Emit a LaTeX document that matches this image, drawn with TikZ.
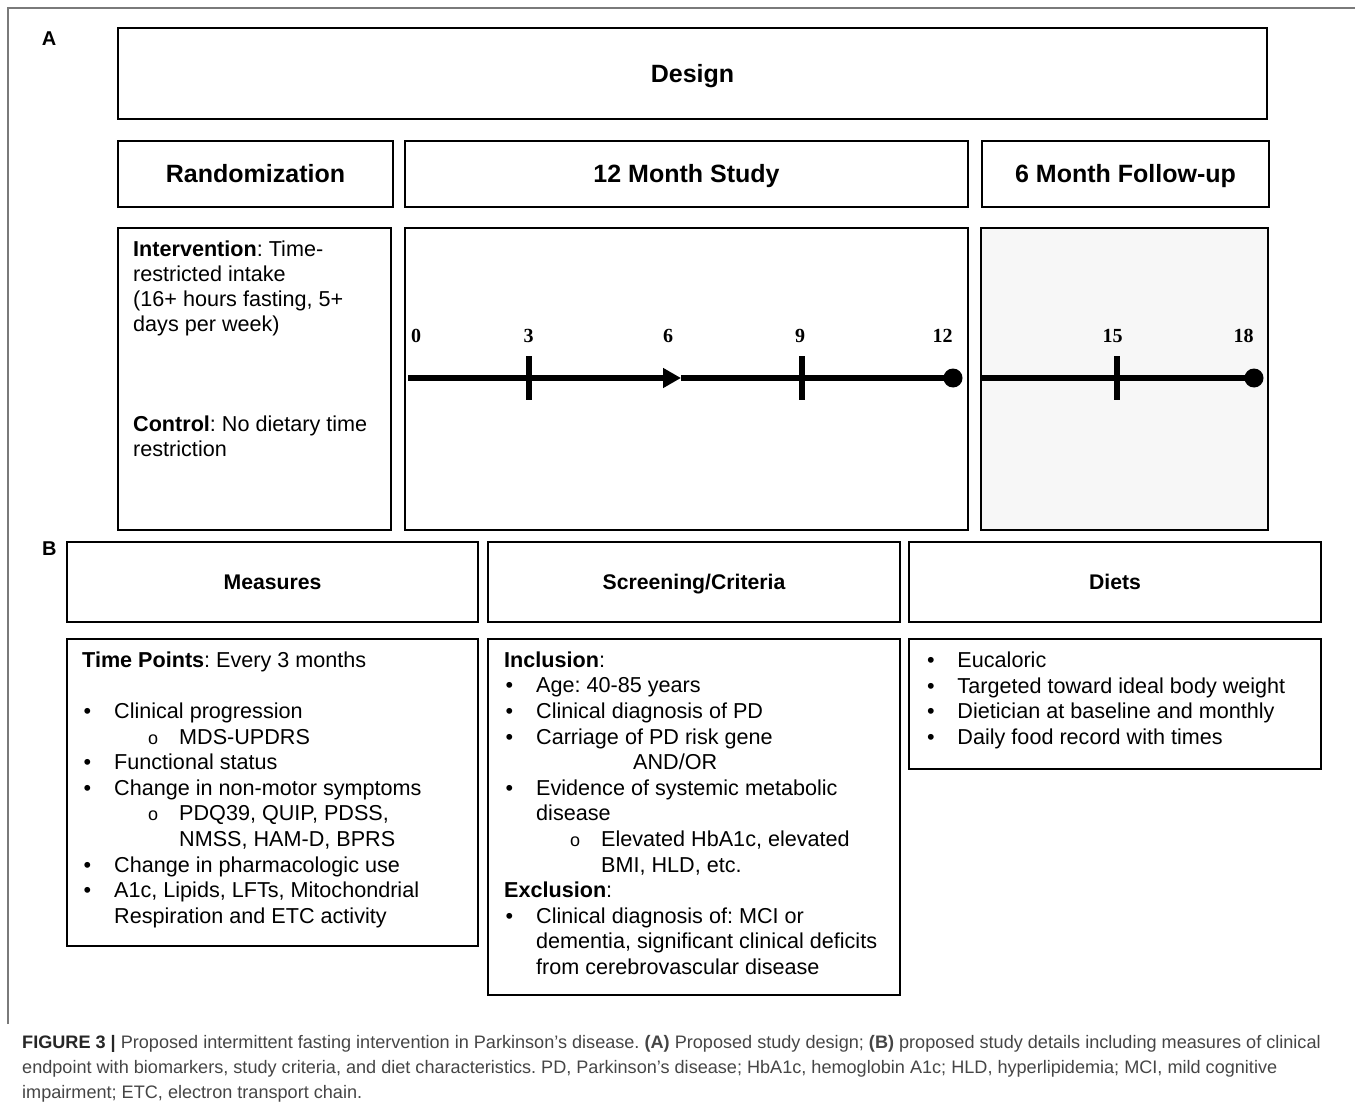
\documentclass[tikz,border=0pt]{standalone}
\usepackage{fontspec}
\setmainfont{Liberation Sans}
\newfontfamily\serfont{Liberation Serif}
\usetikzlibrary{positioning}
\usetikzlibrary{calc}
\usetikzlibrary{arrows.meta}
\frenchspacing

\definecolor{framegray}{HTML}{7A7A7A}
\definecolor{shade}{HTML}{F7F7F7}
\definecolor{captext}{HTML}{454545}

\newcommand{\bul}{\hspace*{1.5pt}\makebox[30.5pt][l]{\textbullet}}
\newcommand{\subbul}{\hspace*{66pt}\makebox[31pt][l]{\fontsize{18}{0}\selectfont o}}
\newcommand{\bulind}{\hspace*{32pt}}
\newcommand{\subind}{\hspace*{97pt}}

\tikzset{
  box/.style={draw, line width=2.6pt, inner sep=0pt},
  head/.style={font=\bfseries\fontsize{25}{30}\selectfont, text height=18pt, text depth=0pt},
  subhead/.style={font=\bfseries\fontsize{21.2}{25}\selectfont, text height=15.5pt, text depth=0pt},
  body/.style={font=\fontsize{21.6}{25.6}\selectfont, align=left, anchor=north west, inner sep=0pt},
  panel/.style={font=\bfseries\fontsize{20}{24}\selectfont, inner sep=0pt},
  mlabel/.style={font=\serfont\bfseries\fontsize{20}{20}\selectfont, anchor=base, inner sep=0pt},
  tl/.style={line width=6.5pt},
  tick/.style={line width=6pt},
}

\begin{document}
\begin{tikzpicture}[x=1pt,y=-1pt]
\useasboundingbox (0,0) rectangle (1355,1110);

% outer frame
\draw[framegray, line width=1.5pt] (8,1024) -- (8,8) -- (1355,8);

% panel A
\node[panel](pa) at (49,38.3){A};
\node[box, head, minimum width=1149pt, minimum height=91pt](design) at (692.5,73.5){Design};
\node[box, head, minimum width=275pt, minimum height=66pt](rand) at (255.5,174){Randomization};
\node[box, head, minimum width=563pt, minimum height=66pt](study) at (686.5,174){12 Month Study};
\node[box, head, minimum width=287pt, minimum height=66pt](follow) at (1125.5,174){6 Month Follow-up};

\node[box, minimum width=273pt, minimum height=302pt](interv) at (254.5,379){};
\node[box, minimum width=563pt, minimum height=302pt](tbox) at (686.5,379){};
\node[box, fill=shade, minimum width=287pt, minimum height=302pt](fbox) at (1124.5,379){};

\node[body, font=\fontsize{21.6}{25}\selectfont](intervtext) at (133,238.5){\strut\textbf{Intervention}: Time-\\
restricted intake\\
(16+ hours fasting, 5+\\
days per week)\\
\\
\\
\\
\textbf{Control}: No dietary time\\
restriction};

% timeline, months 0-12
\coordinate (t0) at (408,378);
\coordinate (t6) at (681,378);
\coordinate (t12) at (953,378);
\coordinate (t3) at (528.5,378);
\coordinate (t9) at (802,378);
\path
(t0) edge[tl, -{Triangle[length=18pt,width=19pt]}] (t6)
(t6) edge[tl] (t12);
\fill (t12) circle (9.5pt);
\draw[tick] ($(t3)+(0,-22)$) -- ($(t3)+(0,22)$);
\draw[tick] ($(t9)+(0,-22)$) -- ($(t9)+(0,22)$);

\node[mlabel](l0) at (416,342){0};
\node[mlabel](l3) at (528.5,342){3};
\node[mlabel](l6) at (668,342){6};
\node[mlabel](l9) at (800,342){9};
\node[mlabel](l12) at (942.5,342){12};

% follow-up, months 12-18
\coordinate (f0) at (982,378);
\coordinate (f15) at (1117,378);
\coordinate (f18) at (1254,378);
\path (f0) edge[tl] (f18);
\fill (f18) circle (9.5pt);
\draw[tick] ($(f15)+(0,-22)$) -- ($(f15)+(0,22)$);

\node[mlabel](l15) at (1112.5,342){15};
\node[mlabel](l18) at (1243.5,342){18};

% panel B
\node[panel](pb) at (49.3,548.3){B};
\node[box, subhead, minimum width=411pt, minimum height=80pt](meas) at (272.5,582){Measures};
\node[box, subhead, minimum width=412pt, minimum height=80pt](screen) at (694,582){Screening/Criteria};
\node[box, subhead, minimum width=412pt, minimum height=80pt](diets) at (1115,582){Diets};

\node[box, minimum width=411pt, minimum height=307pt](measbody) at (272.5,792.5){};
\node[box, minimum width=412pt, minimum height=356pt](critbody) at (694,817){};
\node[box, minimum width=412pt, minimum height=130pt](dietbody) at (1115,704){};

\node[body](meastext) at (82,649.1){\strut\textbf{Time Points}: Every 3 months\\
\\
\bul Clinical progression\\
\subbul MDS-UPDRS\\
\bul Functional status\\
\bul Change in non-motor symptoms\\
\subbul PDQ39, QUIP, PDSS,\\
\subind NMSS, HAM-D, BPRS\\
\bul Change in pharmacologic use\\
\bul A1c, Lipids, LFTs, Mitochondrial\\
\bulind Respiration and ETC activity};

\node[body](crittext) at (504,649.1){\strut\textbf{Inclusion}:\\
\bul Age: 40-85 years\\
\bul Clinical diagnosis of PD\\
\bul Carriage of PD risk gene\\
\hspace*{129pt}AND/OR\\
\bul Evidence of systemic metabolic\\
\bulind disease\\
\subbul Elevated HbA1c, elevated\\
\subind BMI, HLD, etc.\\
\textbf{Exclusion}:\\
\bul Clinical diagnosis of: MCI or\\
\bulind dementia, significant clinical deficits\\
\bulind from cerebrovascular disease};

\node[body](diettext) at (925.3,649.4){\strut\bul Eucaloric\\
\bul Targeted toward ideal body weight\\
\bul Dietician at baseline and monthly\\
\bul Daily food record with times};

% caption
\node[body, font=\fontsize{18.1}{25}\selectfont, text=captext](caption) at (22,1031.2){\strut\textbf{\color{black!85}FIGURE 3 |} Proposed intermittent fasting intervention in Parkinson's disease. \textbf{(A)} Proposed study design; \textbf{(B)} proposed study details including measures of clinical\\
endpoint with biomarkers, study criteria, and diet characteristics. PD, Parkinson's disease; HbA1c, hemoglobin A1c; HLD, hyperlipidemia; MCI, mild cognitive\\
impairment; ETC, electron transport chain.};
\end{tikzpicture}
\end{document}
